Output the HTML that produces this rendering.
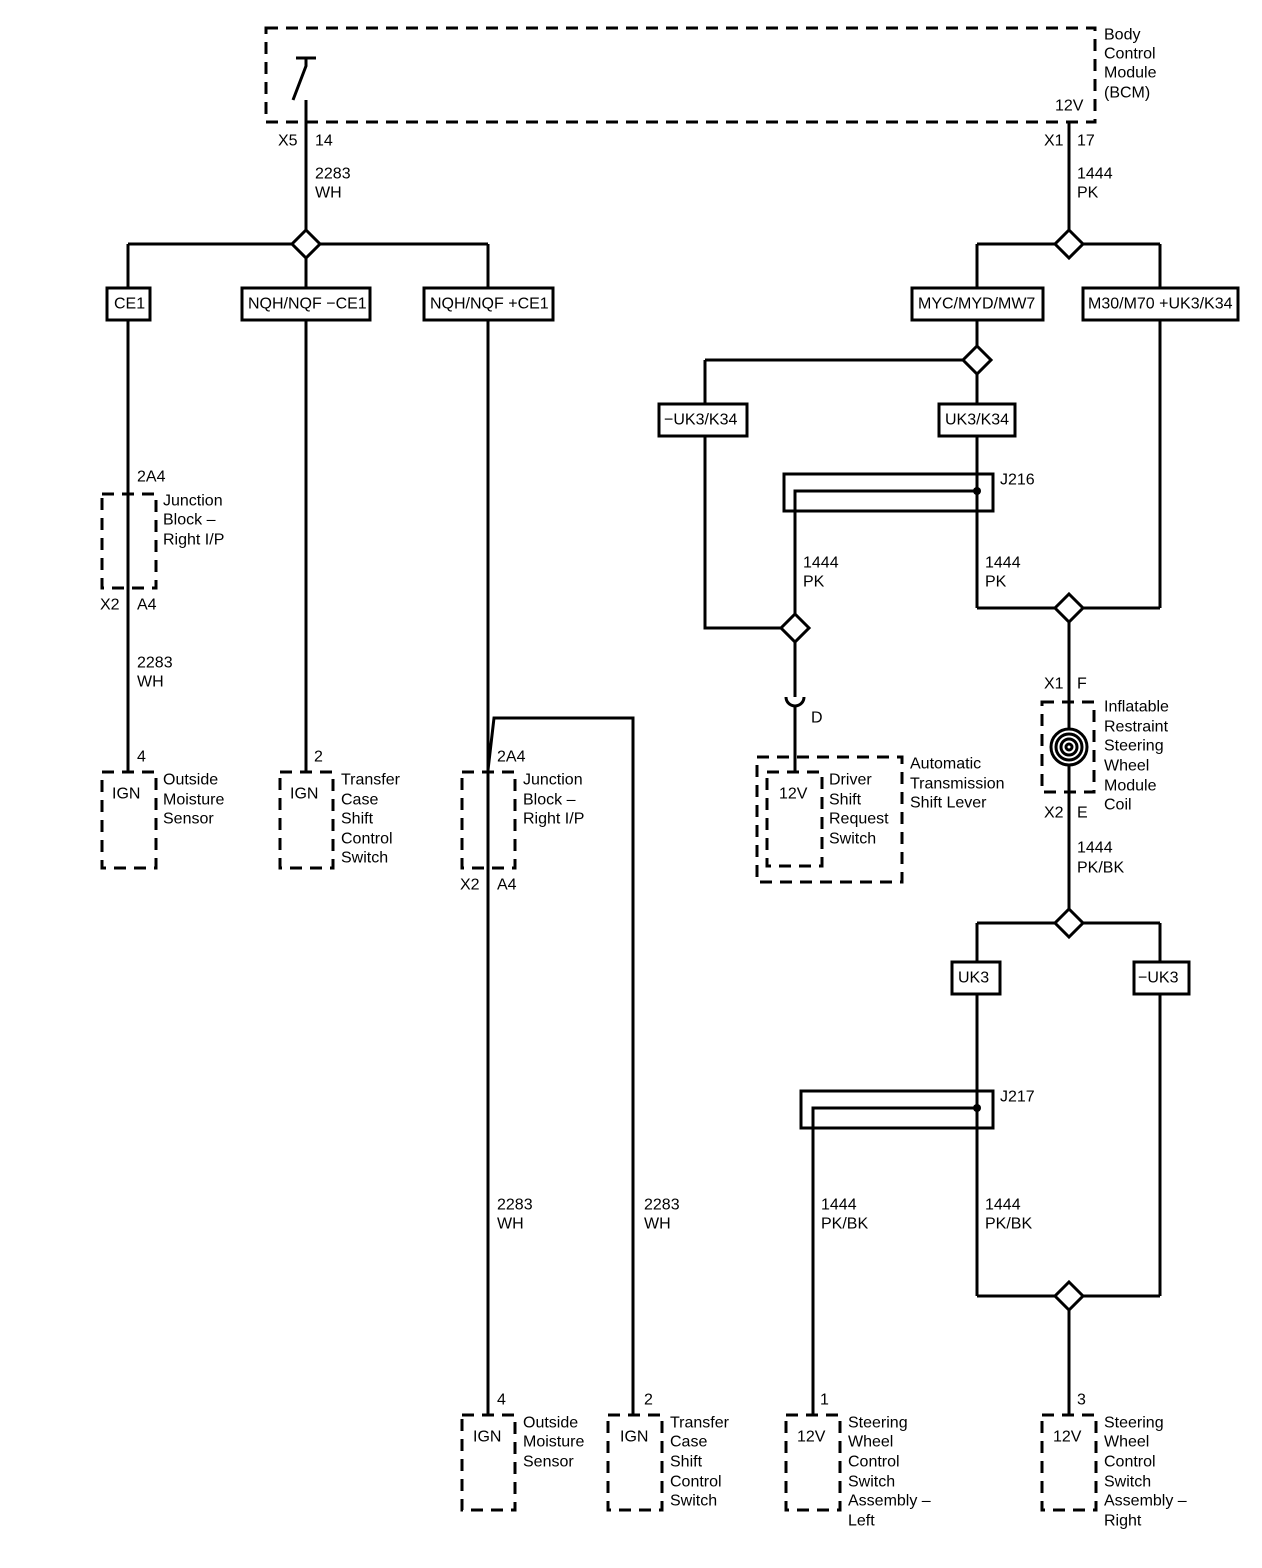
<!DOCTYPE html>
<html><head><meta charset="utf-8"><style>
html,body{margin:0;padding:0;background:#fff;}
svg{display:block;}
text{font-family:"Liberation Sans",sans-serif;font-size:16px;fill:#000;dominant-baseline:central;}
</style></head><body>
<svg width="1262" height="1568" viewBox="0 0 1262 1568" xmlns="http://www.w3.org/2000/svg">
<g fill="none" stroke="#000" stroke-width="3">
<!-- dashed boxes -->
<g stroke-dasharray="12,8">
<rect x="266" y="28" width="829" height="94"/>
<rect x="102" y="494" width="54" height="94"/>
<rect x="102" y="772" width="54" height="96"/>
<rect x="280" y="772" width="53" height="96"/>
<rect x="462" y="772" width="53" height="96"/>
<rect x="757" y="757" width="145" height="125"/>
<rect x="767" y="772" width="55" height="94"/>
<rect x="1042" y="702" width="52" height="90"/>
<rect x="462" y="1415" width="53" height="95"/>
<rect x="608" y="1415" width="54" height="95"/>
<rect x="786" y="1415" width="54" height="95"/>
<rect x="1042" y="1415" width="54" height="95"/>
</g>
<!-- switch in BCM -->
<line x1="296" y1="58" x2="316" y2="58"/>
<polyline points="306,58 306,66 293,100"/>
<!-- left tree -->
<line x1="306" y1="100" x2="306" y2="230"/>
<line x1="128" y1="244" x2="292" y2="244"/>
<line x1="320" y1="244" x2="488" y2="244"/>
<line x1="128" y1="244" x2="128" y2="288"/>
<line x1="306" y1="258" x2="306" y2="288"/>
<line x1="488" y1="244" x2="488" y2="288"/>
<polygon points="306,230 320,244 306,258 292,244" fill="#fff"/>
<rect x="107" y="288" width="43" height="32"/>
<rect x="242" y="288" width="128" height="32"/>
<rect x="424" y="288" width="129" height="32"/>
<line x1="128" y1="320" x2="128" y2="772"/>
<line x1="306" y1="320" x2="306" y2="772"/>
<line x1="488" y1="320" x2="488" y2="1415"/>
<polyline points="488,770 494,718 633,718 633,1415"/>
<!-- right tree -->
<line x1="1069" y1="122" x2="1069" y2="230"/>
<line x1="977" y1="244" x2="1160" y2="244"/>
<line x1="977" y1="244" x2="977" y2="288"/>
<line x1="1160" y1="244" x2="1160" y2="288"/>
<polygon points="1069,230 1083,244 1069,258 1055,244" fill="#fff"/>
<rect x="912" y="288" width="131" height="32"/>
<rect x="1083" y="288" width="155" height="32"/>
<line x1="977" y1="320" x2="977" y2="346"/>
<line x1="705" y1="360" x2="963" y2="360"/>
<line x1="705" y1="360" x2="705" y2="404"/>
<line x1="977" y1="374" x2="977" y2="404"/>
<polygon points="977,346 991,360 977,374 963,360" fill="#fff"/>
<rect x="659" y="404" width="88" height="32"/>
<rect x="939" y="404" width="76" height="32"/>
<rect x="784" y="474" width="209" height="37"/>
<line x1="977" y1="436" x2="977" y2="608"/>
<polyline points="977,491 795,491 795,614"/>
<polyline points="705,436 705,628 781,628"/>
<polygon points="795,614 809,628 795,642 781,628" fill="#fff"/>
<line x1="795" y1="642" x2="795" y2="697"/>
<path d="M786,697 a9,9 0 0 0 18,0"/>
<line x1="795" y1="706" x2="795" y2="772"/>
<line x1="977" y1="608" x2="1160" y2="608"/>
<line x1="1160" y1="320" x2="1160" y2="608"/>
<polygon points="1069,594 1083,608 1069,622 1055,608" fill="#fff"/>
<line x1="1069" y1="622" x2="1069" y2="909"/>
<circle cx="1069" cy="747" r="18" fill="#fff"/>
<circle cx="1069" cy="747" r="13"/>
<circle cx="1069" cy="747" r="8"/>
<circle cx="1069" cy="747" r="3"/>
<line x1="977" y1="923" x2="1160" y2="923"/>
<line x1="977" y1="923" x2="977" y2="962"/>
<line x1="1160" y1="923" x2="1160" y2="962"/>
<polygon points="1069,909 1083,923 1069,937 1055,923" fill="#fff"/>
<rect x="952" y="962" width="48" height="32"/>
<rect x="1134" y="962" width="55" height="32"/>
<rect x="801" y="1091" width="192" height="37"/>
<line x1="977" y1="994" x2="977" y2="1296"/>
<line x1="1160" y1="994" x2="1160" y2="1296"/>
<line x1="977" y1="1296" x2="1160" y2="1296"/>
<polyline points="977,1108 813,1108 813,1415"/>
<polygon points="1069,1282 1083,1296 1069,1310 1055,1296" fill="#fff"/>
<line x1="1069" y1="1310" x2="1069" y2="1415"/>
</g>
<circle cx="977" cy="491" r="4" fill="#000"/>
<circle cx="977" cy="1108" r="4" fill="#000"/>
<!-- text -->
<text x="1104" y="35">Body</text><text x="1104" y="54">Control</text><text x="1104" y="73">Module</text><text x="1104" y="93">(BCM)</text>
<text x="278" y="141">X5</text><text x="315" y="141">14</text>
<text x="315" y="174">2283</text><text x="315" y="193">WH</text>
<text x="1055" y="106">12V</text>
<text x="1044" y="141">X1</text><text x="1077" y="141">17</text>
<text x="1077" y="174">1444</text><text x="1077" y="193">PK</text>
<text x="114" y="304">CE1</text>
<text x="248" y="304">NQH/NQF −CE1</text>
<text x="430" y="304">NQH/NQF +CE1</text>
<text x="918" y="304">MYC/MYD/MW7</text>
<text x="1088" y="304">M30/M70 +UK3/K34</text>
<text x="664" y="420">−UK3/K34</text>
<text x="945" y="420">UK3/K34</text>
<text x="1000" y="480">J216</text>
<text x="803" y="563">1444</text><text x="803" y="582">PK</text>
<text x="985" y="563">1444</text><text x="985" y="582">PK</text>
<text x="811" y="718">D</text>
<text x="910" y="764">Automatic</text><text x="910" y="784">Transmission</text><text x="910" y="803">Shift Lever</text>
<text x="779" y="794">12V</text>
<text x="829" y="780">Driver</text><text x="829" y="800">Shift</text><text x="829" y="819">Request</text><text x="829" y="839">Switch</text>
<text x="1044" y="684">X1</text><text x="1077" y="684">F</text>
<text x="1104" y="707">Inflatable</text><text x="1104" y="727">Restraint</text><text x="1104" y="746">Steering</text><text x="1104" y="766">Wheel</text><text x="1104" y="786">Module</text><text x="1104" y="805">Coil</text>
<text x="1044" y="813">X2</text><text x="1077" y="813">E</text>
<text x="1077" y="848">1444</text><text x="1077" y="868">PK/BK</text>
<text x="958" y="978">UK3</text>
<text x="1138" y="978">−UK3</text>
<text x="1000" y="1097">J217</text>
<text x="821" y="1205">1444</text><text x="821" y="1224">PK/BK</text>
<text x="985" y="1205">1444</text><text x="985" y="1224">PK/BK</text>
<text x="137" y="477">2A4</text>
<text x="163" y="501">Junction</text><text x="163" y="520">Block –</text><text x="163" y="540">Right I/P</text>
<text x="100" y="605">X2</text><text x="137" y="605">A4</text>
<text x="137" y="663">2283</text><text x="137" y="682">WH</text>
<text x="137" y="757">4</text>
<text x="112" y="794">IGN</text>
<text x="163" y="780">Outside</text><text x="163" y="800">Moisture</text><text x="163" y="819">Sensor</text>
<text x="314" y="757">2</text>
<text x="290" y="794">IGN</text>
<text x="341" y="780">Transfer</text><text x="341" y="800">Case</text><text x="341" y="819">Shift</text><text x="341" y="839">Control</text><text x="341" y="858">Switch</text>
<text x="497" y="757">2A4</text>
<text x="523" y="780">Junction</text><text x="523" y="800">Block –</text><text x="523" y="819">Right I/P</text>
<text x="460" y="885">X2</text><text x="497" y="885">A4</text>
<text x="497" y="1205">2283</text><text x="497" y="1224">WH</text>
<text x="644" y="1205">2283</text><text x="644" y="1224">WH</text>
<text x="497" y="1400">4</text><text x="473" y="1437">IGN</text>
<text x="523" y="1423">Outside</text><text x="523" y="1442">Moisture</text><text x="523" y="1462">Sensor</text>
<text x="644" y="1400">2</text><text x="620" y="1437">IGN</text>
<text x="670" y="1423">Transfer</text><text x="670" y="1442">Case</text><text x="670" y="1462">Shift</text><text x="670" y="1482">Control</text><text x="670" y="1501">Switch</text>
<text x="820" y="1400">1</text><text x="797" y="1437">12V</text>
<text x="848" y="1423">Steering</text><text x="848" y="1442">Wheel</text><text x="848" y="1462">Control</text><text x="848" y="1482">Switch</text><text x="848" y="1501">Assembly –</text><text x="848" y="1521">Left</text>
<text x="1077" y="1400">3</text><text x="1053" y="1437">12V</text>
<text x="1104" y="1423">Steering</text><text x="1104" y="1442">Wheel</text><text x="1104" y="1462">Control</text><text x="1104" y="1482">Switch</text><text x="1104" y="1501">Assembly –</text><text x="1104" y="1521">Right</text>
</svg>
</body></html>
